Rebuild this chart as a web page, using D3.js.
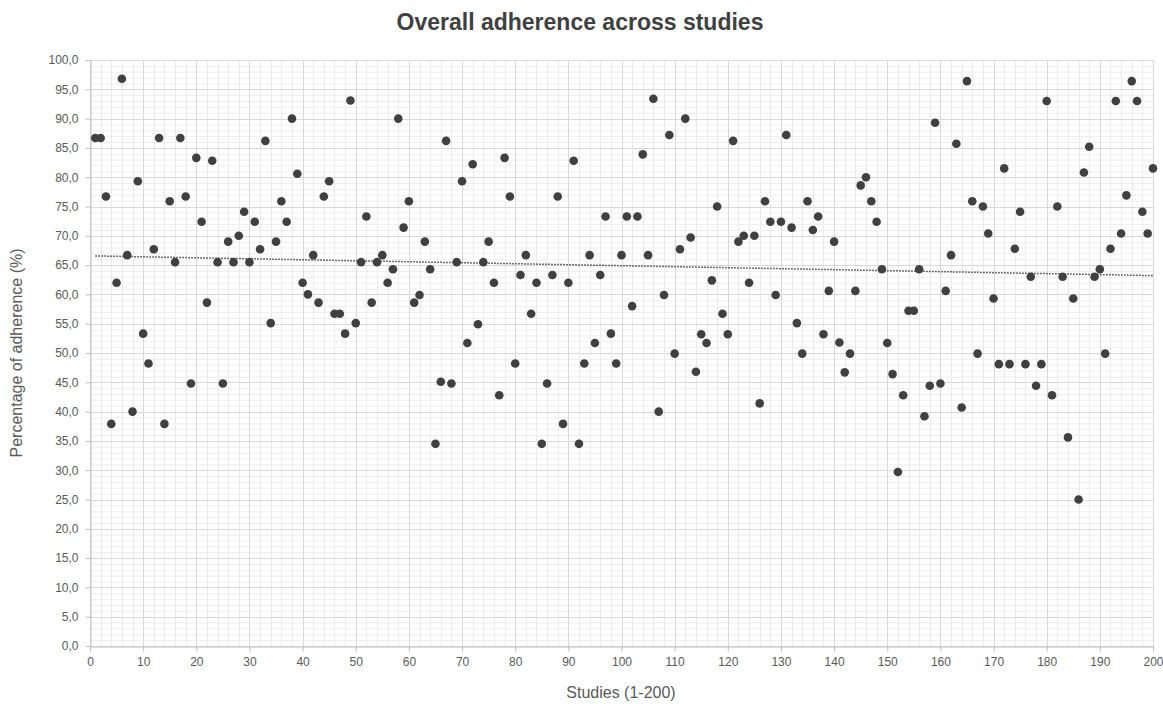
<!DOCTYPE html>
<html>
<head>
<meta charset="utf-8">
<script src="https://cdn.jsdelivr.net/npm/d3@7"></script>
<style>
  body { margin: 0; background: #fff; }
  svg { font-family: "Liberation Sans", Arial, sans-serif; }
</style>
</head>
<body>
<div id="chart"></div>
<script>
// adherence per study (study 1..200)
var adherence = [
  86.7, 86.7, 76.7, 37.9, 62.0, 96.8, 66.7, 40.0, 79.3, 53.3,
  48.2, 67.7, 86.7, 37.9, 75.9, 65.5, 86.7, 76.7, 44.8, 83.3,
  72.4, 58.6, 82.8, 65.5, 44.8, 69.0, 65.5, 70.0, 74.1, 65.5,
  72.4, 67.7, 86.2, 55.1, 69.0, 75.9, 72.4, 90.0, 80.6, 62.0,
  60.0, 66.7, 58.6, 76.7, 79.3, 56.7, 56.7, 53.3, 93.1, 55.1,
  65.5, 73.3, 58.6, 65.5, 66.7, 62.0, 64.3, 90.0, 71.4, 75.9,
  58.6, 59.9, 69.0, 64.3, 34.5, 45.1, 86.2, 44.8, 65.5, 79.3,
  51.7, 82.2, 54.9, 65.5, 69.0, 62.0, 42.8, 83.3, 76.7, 48.2,
  63.3, 66.7, 56.7, 62.0, 34.5, 44.8, 63.3, 76.7, 37.9, 62.0,
  82.8, 34.5, 48.2, 66.7, 51.7, 63.3, 73.3, 53.3, 48.2, 66.7,
  73.3, 58.0, 73.3, 83.9, 66.7, 93.4, 40.0, 59.9, 87.2, 49.9,
  67.7, 90.0, 69.7, 46.8, 53.2, 51.7, 62.4, 75.0, 56.7, 53.2,
  86.2, 69.0, 70.0, 62.0, 70.0, 41.4, 75.9, 72.4, 59.9, 72.4,
  87.2, 71.4, 55.1, 49.9, 75.9, 71.0, 73.3, 53.2, 60.6, 69.0,
  51.8, 46.7, 49.9, 60.6, 78.6, 80.0, 75.9, 72.4, 64.3, 51.7,
  46.4, 29.7, 42.8, 57.2, 57.2, 64.3, 39.2, 44.4, 89.3, 44.8,
  60.6, 66.7, 85.7, 40.7, 96.4, 75.9, 49.9, 75.0, 70.4, 59.3,
  48.1, 81.5, 48.1, 67.8, 74.1, 48.1, 63.0, 44.4, 48.1, 93.0,
  42.8, 75.0, 63.0, 35.6, 59.3, 25.0, 80.8, 85.2, 63.0, 64.3,
  49.9, 67.8, 93.0, 70.4, 76.9, 96.4, 93.0, 74.1, 70.4, 81.5
];
var studies = d3.range(1, adherence.length + 1);
var points = studies.map(function(s, i) { return { study: s, value: adherence[i] }; });

var xTicks = d3.range(0, 201, 10);
var yTicks = d3.range(0, 100.1, 5);

var width = 1163, height = 704;
var margin = { top: 60, right: 10, bottom: 58, left: 90 };
var innerW = 1153 - margin.left, innerH = 646 - margin.top;

var svg = d3.select("#chart").append("svg")
    .attr("width", width).attr("height", height);

var x = d3.scaleLinear().domain([0, 200]).range([margin.left, margin.left + innerW]);
var y = d3.scaleLinear().domain([0, 100]).range([margin.top + innerH, margin.top]);

// minor grid
var grid = svg.append("g");
grid.selectAll(".ymin").data(d3.range(0, 101, 1).filter(function(d) { return d % 5 != 0; }))
  .enter().append("line")
    .attr("x1", x(0)).attr("x2", x(200))
    .attr("y1", function(d) { return y(d) + 0.5; }).attr("y2", function(d) { return y(d) + 0.5; })
    .attr("stroke", "#efefef").attr("stroke-width", 1);
grid.selectAll(".xmin").data(d3.range(0, 201, 2).filter(function(d) { return d % 10 != 0; }))
  .enter().append("line")
    .attr("y1", y(0)).attr("y2", y(100))
    .attr("x1", function(d) { return Math.round(x(d)) + 0.5; }).attr("x2", function(d) { return Math.round(x(d)) + 0.5; })
    .attr("stroke", "#ebebeb").attr("stroke-width", 1);
// major grid
grid.selectAll(".ymaj").data(yTicks)
  .enter().append("line")
    .attr("x1", x(0)).attr("x2", x(200))
    .attr("y1", function(d) { return Math.round(y(d)) + 0.5; }).attr("y2", function(d) { return Math.round(y(d)) + 0.5; })
    .attr("stroke", "#d9d9d9").attr("stroke-width", 1);
grid.selectAll(".xmaj").data(xTicks)
  .enter().append("line")
    .attr("y1", y(0)).attr("y2", y(100))
    .attr("x1", function(d) { return Math.round(x(d)) + 0.5; }).attr("x2", function(d) { return Math.round(x(d)) + 0.5; })
    .attr("stroke", "#d9d9d9").attr("stroke-width", 1);

// axes
var fmt = function(d) { return d3.format(".1f")(d).replace(".", ","); };
var yAxis = svg.append("g")
    .attr("transform", "translate(" + (Math.round(x(0)) + 0.5) + ",0)")
    .call(d3.axisLeft(y).tickValues(yTicks).tickFormat(fmt).tickSize(5).tickSizeOuter(0));
var xAxis = svg.append("g")
    .attr("transform", "translate(0," + (Math.round(y(0)) + 0.5) + ")")
    .call(d3.axisBottom(x).tickValues(xTicks).tickSize(5).tickSizeOuter(0));
[xAxis, yAxis].forEach(function(a) {
  a.select(".domain").attr("stroke", "#bfbfbf");
  a.selectAll(".tick line").attr("stroke", "#bfbfbf");
  a.selectAll(".tick text").attr("fill", "#595959").style("font-size", "12px")
    .style("font-family", "'Liberation Sans', Arial, sans-serif");
});
yAxis.selectAll(".tick text").attr("x", -12);
xAxis.selectAll(".tick text").attr("y", 11);

// linear trend line from the data
var mx = d3.mean(studies), my = d3.mean(adherence);
var slope = d3.sum(points, function(p) { return (p.study - mx) * (p.value - my); }) /
            d3.sum(points, function(p) { return (p.study - mx) * (p.study - mx); });
var icpt = my - slope * mx;
svg.append("line")
    .attr("x1", x(1)).attr("y1", y(icpt + slope * 1))
    .attr("x2", x(200)).attr("y2", y(icpt + slope * 200))
    .attr("stroke", "#404040").attr("stroke-width", 1.5)
    .attr("stroke-dasharray", "1.5,1.5");

// points
svg.append("g").selectAll("circle").data(points)
  .enter().append("circle")
    .attr("cx", function(d) { return x(d.study); })
    .attr("cy", function(d) { return y(d.value); })
    .attr("r", 4.3)
    .attr("fill", "#404040");

// titles
svg.append("text")
    .attr("x", 580).attr("y", 30)
    .attr("text-anchor", "middle")
    .attr("fill", "#404040")
    .style("font-size", "23px").style("font-weight", "bold")
    .text("Overall adherence across studies");
svg.append("text")
    .attr("x", 621).attr("y", 698)
    .attr("text-anchor", "middle")
    .attr("fill", "#595959")
    .style("font-size", "16px")
    .text("Studies (1-200)");
svg.append("text")
    .attr("transform", "translate(22,353) rotate(-90)")
    .attr("text-anchor", "middle")
    .attr("fill", "#595959")
    .style("font-size", "16px")
    .text("Percentage of adherence (%)");
</script>
</body>
</html>
